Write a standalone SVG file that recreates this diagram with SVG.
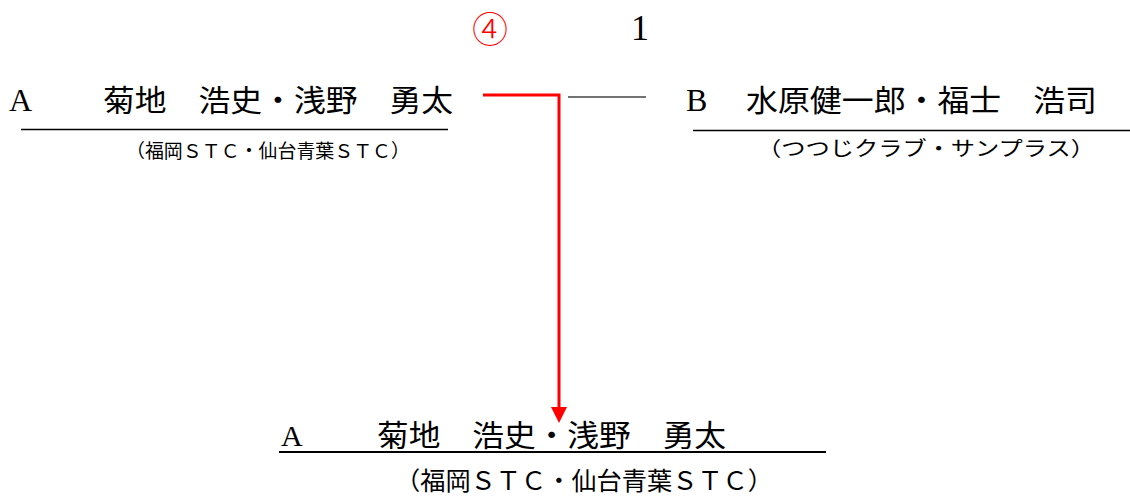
<svg xmlns="http://www.w3.org/2000/svg" width="1130" height="497" viewBox="0 0 1130 497">
  <defs>
    <style>
      .lat { font-family: "Liberation Serif", "Noto Sans CJK JP", serif; fill: #000; }
      .jp { font-family: "Liberation Serif", "Noto Sans CJK JP", serif; fill: #000; }
      .name { font-size: 30px; }
      .sub { font-size: 19px; }
      .rule { stroke: #000; stroke-width: 1.3; fill: none; }
      .red { stroke: #ff0000; stroke-width: 3; fill: none; }
    </style>
  </defs>
  <rect width="1130" height="497" fill="#fff"/>

  <g id="header">
    <text x="490" y="43" text-anchor="middle" font-family="Noto Sans CJK JP, sans-serif" font-size="36" font-weight="300" fill="#ff0000">④</text>
    <text class="lat" x="640" y="40" text-anchor="middle" font-size="36">1</text>
  </g>

  <g id="nodeA">
    <text class="lat" x="9" y="111" font-size="32">A</text>
    <text class="jp name" x="103" y="111" textLength="350" lengthAdjust="spacingAndGlyphs">菊地　浩史・浅野　勇太</text>
    <line class="rule" x1="21" y1="129.5" x2="448" y2="129.5"/>
    <text class="jp sub" x="126" y="158" textLength="284" lengthAdjust="spacingAndGlyphs">（福岡ＳＴＣ・仙台青葉ＳＴＣ）</text>
  </g>

  <g id="nodeB">
    <text class="lat" x="686" y="111" font-size="32">B</text>
    <text class="jp name" x="746" y="111" textLength="351" lengthAdjust="spacingAndGlyphs">水原健一郎・福士　浩司</text>
    <line class="rule" x1="693" y1="130.5" x2="1130" y2="130.5"/>
    <text class="jp" x="757" y="156" font-size="20" textLength="338" lengthAdjust="spacingAndGlyphs">（つつじクラブ・サンプラス）</text>
  </g>

  <g id="winner">
    <text class="lat" x="281" y="446" font-size="30">A</text>
    <text class="jp name" x="377" y="446" textLength="349" lengthAdjust="spacingAndGlyphs">菊地　浩史・浅野　勇太</text>
    <line x1="279" y1="452" x2="826" y2="452" stroke="#000" stroke-width="2"/>
    <text class="jp" x="395" y="490" font-size="25" textLength="378" lengthAdjust="spacingAndGlyphs">（福岡ＳＴＣ・仙台青葉ＳＴＣ）</text>
  </g>

  <g id="connectors">
    <polyline class="red" points="483,95 559,95 559,408"/>
    <path d="M551,407 L567,407 L559,423 Z" fill="#ff0000"/>
    <line x1="568" y1="97" x2="646" y2="97" stroke="#444" stroke-width="1.3"/>
  </g>
</svg>
